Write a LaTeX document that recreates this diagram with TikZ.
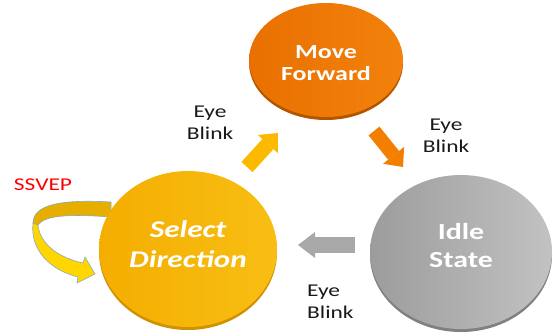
\documentclass[tikz,border=0pt]{standalone}
\usepackage{fontspec}
\setmainfont{Carlito}[FakeStretch=1.3]
\usetikzlibrary{shapes.geometric,arrows.meta}
\definecolor{orngA}{HTML}{F2820C}
\definecolor{orngB}{HTML}{E97000}
\definecolor{orngRim}{HTML}{B35400}
\definecolor{goldA}{HTML}{F4AE00}
\definecolor{goldB}{HTML}{F8BE14}
\definecolor{goldRim}{HTML}{D09200}
\definecolor{grayA}{HTML}{9C9C9C}
\definecolor{grayB}{HTML}{C2C2C2}
\definecolor{grayRim}{HTML}{808080}
\definecolor{arrGold}{HTML}{FBB900}
\definecolor{arrOrng}{HTML}{F27F00}
\definecolor{arrGray}{HTML}{A8A8A8}
\definecolor{ribBack}{HTML}{E6AF00}
\definecolor{ribFront}{HTML}{FFD600}
\definecolor{ribEdge}{HTML}{8AA8C2}
\tikzset{
  disc/.style n args={3}{ellipse, inner sep=0pt, align=center, text=white,
    left color=#1, right color=#2,
    preaction={fill=#3, transform canvas={yshift=-3pt}}},
  blockarrow/.style n args={4}{draw=#1, line width=#2, line cap=butt,
    -{Triangle[length=#4, width=#3, line width=0pt]}},
  evlabel/.style={font=\fontsize{18}{22}\selectfont, text=black!90, align=center, inner sep=0pt},
  ribbon/.style={draw=ribEdge, line width=0.6pt, line join=round}
}
\begin{document}
\begin{tikzpicture}[x=1pt,y=-1pt]
\useasboundingbox (0,0) rectangle (553,335);

% SSVEP self-loop ribbon arrow
\fill[ribBack, ribbon] (33,223) .. controls (33,205) and (60,199) .. (111,202)
  -- (111,217) .. controls (70,214) and (45,215) .. (38,225) -- cycle;
\fill[ribFront, ribbon] (33,223) .. controls (30,250) and (50,270) .. (78,277)
  -- (77,283) -- (95,274) -- (85,257) -- (83,263)
  .. controls (60,258) and (40,245) .. (38,225) -- cycle;

% discs
\node[disc={orngB}{orngA}{orngRim}, minimum width=154pt, minimum height=114pt,
      text height=41pt, text depth=0pt,
      font=\bfseries\fontsize{20}{22}\selectfont] (mov) at (326,60) {Move\\Forward};
\node[disc={goldA}{goldB}{goldRim}, minimum width=178pt, minimum height=156pt,
      text height=37.4pt, text depth=0pt,
      font=\bfseries\itshape\fontsize{24}{30}\selectfont] (sel) at (188,249) {Select\\Direction};
\node[disc={grayA}{grayB}{grayRim}, minimum width=182pt, minimum height=154pt,
      text height=30.8pt, text depth=0pt,
      font=\bfseries\fontsize{23}{28}\selectfont] (idl) at (461,252) {Idle\\State};

% transition arrows
\coordinate (a1s) at (247,167); \coordinate (a1e) at (278,133);
\coordinate (a2s) at (374,131); \coordinate (a2e) at (403,167);
\coordinate (a3s) at (355,245); \coordinate (a3e) at (298,245);
\draw[blockarrow={arrGold}{15pt}{27pt}{15pt}] (a1s) -- (a1e);
\draw[blockarrow={arrOrng}{14pt}{27pt}{15pt}] (a2s) -- (a2e);
\draw[blockarrow={arrGray}{16pt}{26pt}{17pt}] (a3s) -- (a3e);

% labels
\node[evlabel] (l1) at (210,123) {Eye\\Blink};
\node[evlabel] (l2) at (446,136) {Eye\\Blink};
\node[evlabel, align=left, anchor=west] (l3) at (307,302) {Eye\\Blink};
\node[font=\fontsize{18}{20}\selectfont, text=red, inner sep=0pt] (ss) at (43,185) {SSVEP};
\end{tikzpicture}
\end{document}
